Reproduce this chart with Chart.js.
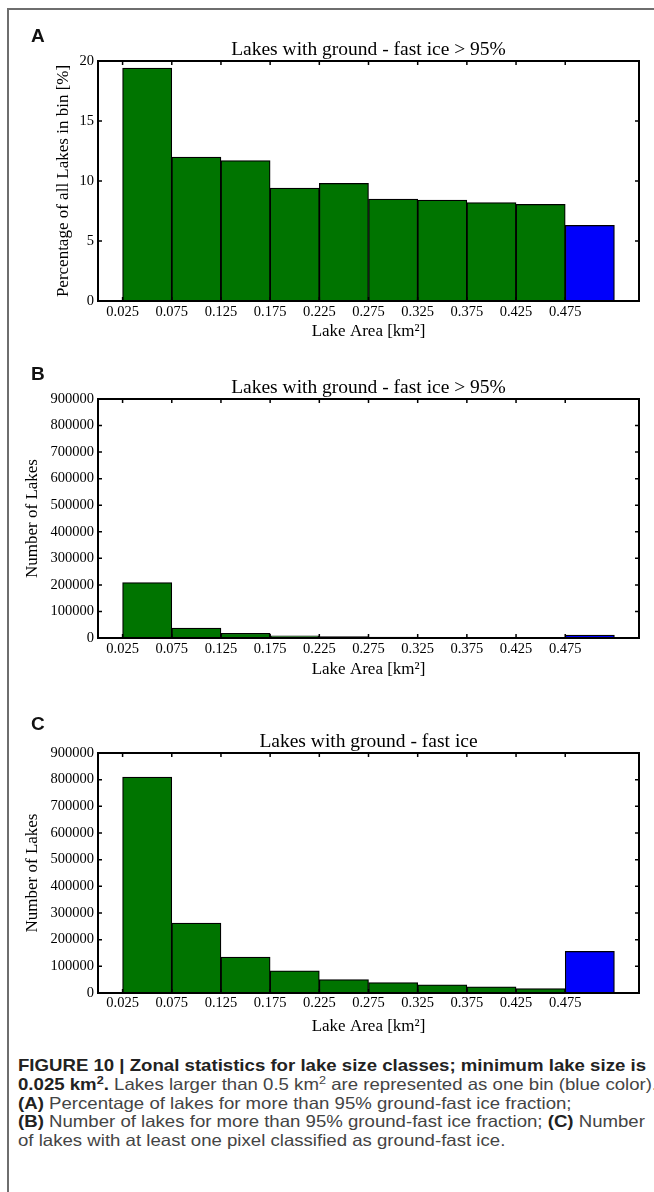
<!DOCTYPE html>
<html><head><meta charset="utf-8">
<script src="https://cdn.jsdelivr.net/npm/chart.js@4.4.1/dist/chart.umd.min.js"></script>
<style>
html,body{margin:0;padding:0;background:#fff;}
body{width:654px;height:1192px;position:relative;overflow:hidden;}
.frame{position:absolute;left:7px;top:8px;width:700px;height:1300px;border-top:2px solid #6e6e6e;border-left:2px solid #6e6e6e;}
canvas{position:absolute;left:0;}
.panel{position:absolute;left:31px;font:bold 19px/1 "Liberation Sans",Arial,sans-serif;color:#111;}
.caption{position:absolute;left:18px;top:1056px;font:16.5px/18.8px "Liberation Sans",Arial,sans-serif;color:#444;white-space:nowrap;transform-origin:0 0;}
.caption b{color:#222;}
.caption sup{font-size:0.68em;line-height:0;vertical-align:0.55em;}
</style></head><body>
<div class="frame"></div>
<canvas id="cA"></canvas>
<canvas id="cB"></canvas>
<canvas id="cC"></canvas>
<div class="panel" style="top:25.7px">A</div>
<div class="panel" style="top:363.7px">B</div>
<div class="panel" style="top:713.7px">C</div>
<div class="caption" id="cap">
<b id="capL1">FIGURE 10 | Zonal statistics for lake size classes; minimum lake size is</b><br>
<b>0.025 km<sup>2</sup>.</b> Lakes larger than 0.5 km<sup>2</sup> are represented as one bin (blue color).<br>
<b>(A)</b> Percentage of lakes for more than 95% ground-fast ice fraction;<br>
<b>(B)</b> Number of lakes for more than 95% ground-fast ice fraction; <b>(C)</b> Number<br>
of lakes with at least one pixel classified as ground-fast ice.
</div>
<script>
// ---- data ----
const binStarts = [0.025, 0.075, 0.125, 0.175, 0.225, 0.275, 0.325, 0.375, 0.425, 0.475];
const binCenters = [0.05, 0.10, 0.15, 0.20, 0.25, 0.30, 0.35, 0.40, 0.45, 0.50];
const xTickLabels = ['0.025','0.075','0.125','0.175','0.225','0.275','0.325','0.375','0.425','0.475'];
const pctA = [19.4, 12.0, 11.7, 9.4, 9.8, 8.5, 8.4, 8.2, 8.05, 6.3];
const countB = [209000, 37000, 18000, 8000, 5000, 3800, 2800, 2100, 1600, 11000];
const countC = [810000, 262000, 135000, 83000, 50000, 39000, 31000, 23000, 17000, 156000];
const yTicksA = [0, 5, 10, 15, 20];
const yTicksBC = [0, 100000, 200000, 300000, 400000, 500000, 600000, 700000, 800000, 900000];
const titleA = 'Lakes with ground - fast ice > 95%';
const titleB = 'Lakes with ground - fast ice > 95%';
const titleC = 'Lakes with ground - fast ice';
const yTitleA = 'Percentage of all Lakes in bin [%]';
const yTitleBC = 'Number of Lakes';
const xTitle = 'Lake Area [km\u00B2]';

// ---- style ----
const GREEN = '#007400', BLUE = '#0000fb';
const barColors = binCenters.map((_, i) => i === binCenters.length - 1 ? BLUE : GREEN);
const SERIF = '"Liberation Serif","Times New Roman",serif';
const PL = 98, PR = 639;
const TITLE_SIZE = 19.5, TITLE_LH = 19.5;
const TICK_SIZE = 14.5, TICK_LH = 14.5 * 1.2;
const AX_SIZE = 17, AX_LH = 17 * 1.2;

const framePlugin = {
  id: 'frame',
  afterDraw(chart) {
    const {ctx, chartArea: a, scales: {x, y}} = chart;
    ctx.save();
    ctx.strokeStyle = '#000';
    ctx.lineWidth = 1.5;
    ctx.beginPath();
    x.ticks.forEach(t => {
      const px = x.getPixelForValue(t.value);
      ctx.moveTo(px, a.bottom); ctx.lineTo(px, a.bottom - 4);
      ctx.moveTo(px, a.top); ctx.lineTo(px, a.top + 4);
    });
    y.ticks.forEach(t => {
      const py = y.getPixelForValue(t.value);
      ctx.moveTo(a.left, py); ctx.lineTo(a.left + 4, py);
      ctx.moveTo(a.right, py); ctx.lineTo(a.right - 4, py);
    });
    ctx.stroke();
    ctx.lineWidth = 2;
    ctx.strokeRect(a.left, a.top, a.right - a.left, a.bottom - a.top);
    ctx.restore();
  }
};

function makeChart(id, cfg) {
  const c = document.getElementById(id);
  c.width = 654; c.height = cfg.h;
  c.style.top = cfg.top + 'px';
  new Chart(c, {
    type: 'bar',
    data: {
      datasets: [{
        data: binCenters.map((x, i) => ({x: x, y: cfg.values[i]})),
        backgroundColor: barColors,
        borderColor: '#000',
        borderWidth: 1.25,
        borderSkipped: false,
        barPercentage: 1,
        categoryPercentage: 1
      }]
    },
    options: {
      responsive: false, animation: false, devicePixelRatio: 1,
      layout: {padding: {left: 0, right: 654 - PR, top: 0, bottom: 0}},
      plugins: {
        legend: {display: false},
        tooltip: {enabled: false},
        title: {display: false}
      },
      scales: {
        x: {
          type: 'linear', min: 0, max: 0.55, offset: false,
          grid: {display: false, drawTicks: false, offset: false},
          border: {display: false},
          afterBuildTicks: s => { s.ticks = binStarts.map(v => ({value: v})); },
          afterFit: s => { s.height = cfg.h - cfg.PB; },
          ticks: {
            autoSkip: false, maxRotation: 0, minRotation: 0,
            padding: cfg.XT - cfg.PB - TICK_LH / 2, color: '#000',
            font: {family: SERIF, size: TICK_SIZE, lineHeight: 1.2},
            callback: (v, i) => xTickLabels[i]
          },
          title: {
            display: true, text: xTitle, color: '#000',
            font: {family: SERIF, size: AX_SIZE, lineHeight: 1.2},
            padding: {top: 0, bottom: cfg.h - cfg.XX - AX_LH / 2}
          }
        },
        xTop: {
          type: 'linear', position: 'top', min: 0, max: 0.55, offset: false,
          grid: {display: false, drawTicks: false, offset: false},
          border: {display: false},
          ticks: {display: false},
          afterFit: s => { s.height = cfg.PT; },
          title: {
            display: true, text: cfg.title, color: '#000',
            font: {family: SERIF, size: TITLE_SIZE, weight: 'normal', lineHeight: 1},
            padding: {top: cfg.TY - TITLE_LH / 2, bottom: 0}
          }
        },
        y: {
          type: 'linear', min: 0, max: cfg.yTicks[cfg.yTicks.length - 1],
          grid: {display: false, drawTicks: false},
          border: {display: false},
          afterBuildTicks: s => { s.ticks = cfg.yTicks.map(v => ({value: v})); },
          afterFit: s => { s.width = PL; },
          ticks: {
            padding: 4, color: '#000',
            font: {family: SERIF, size: TICK_SIZE, lineHeight: 1.2},
            callback: v => String(v)
          },
          title: {
            display: true, text: cfg.yTitle, color: '#000',
            font: {family: SERIF, size: AX_SIZE, lineHeight: 1.2},
            padding: {top: cfg.YX - AX_LH / 2, bottom: 0}
          }
        }
      }
    },
    plugins: [framePlugin]
  });
}

makeChart('cA', {top: 0, h: 345, PT: 61, PB: 301, TY: 50, XT: 312, XX: 332, YX: 64,
  title: titleA, yTitle: yTitleA, values: pctA, yTicks: yTicksA});
makeChart('cB', {top: 345, h: 340, PT: 54, PB: 293, TY: 43, XT: 304, XX: 325, YX: 33,
  title: titleB, yTitle: yTitleBC, values: countB, yTicks: yTicksBC});
makeChart('cC', {top: 685, h: 355, PT: 68, PB: 308, TY: 57, XT: 318, XX: 342, YX: 33,
  title: titleC, yTitle: yTitleBC, values: countC, yTicks: yTicksBC});

// stretch caption horizontally so the first line spans the same width as in the figure
const cap = document.getElementById('cap');
const w1 = document.getElementById('capL1').getBoundingClientRect().width;
cap.style.transform = 'scaleX(' + (628 / w1) + ')';
</script>
</body></html>
